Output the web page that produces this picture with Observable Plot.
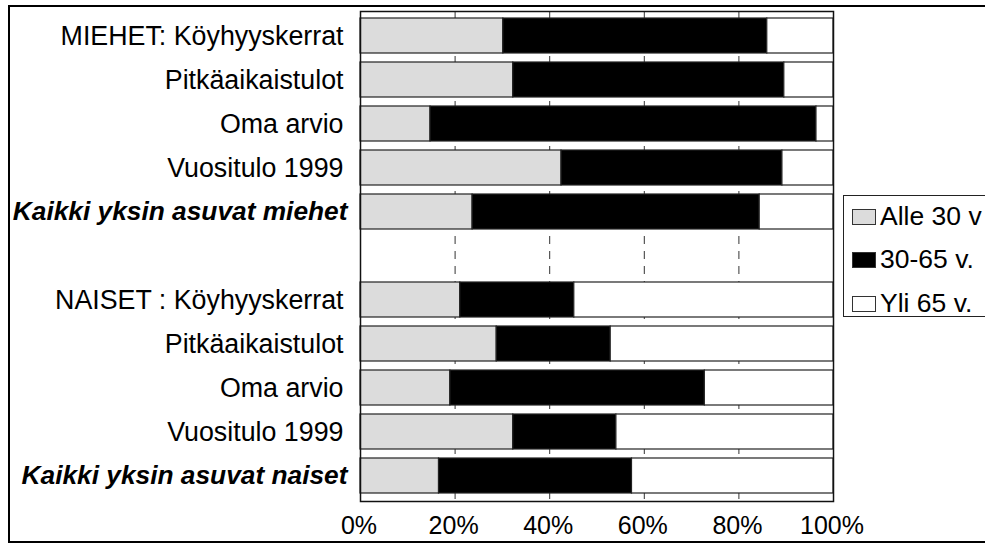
<!DOCTYPE html>
<html>
<head>
<meta charset="utf-8">
<script src="https://cdn.jsdelivr.net/npm/d3@7"></script>
<script src="https://cdn.jsdelivr.net/npm/@observablehq/plot@0.6"></script>
<style>
  html, body { margin: 0; padding: 0; background: #fff; }
  #wrap { position: relative; width: 985px; height: 543px; overflow: hidden; font-family: "Liberation Sans", Arial, sans-serif; }
  #outer { position: absolute; left: 8px; top: 5px; width: 1100px; height: 534px; border: 2px solid #000; }
  #chart { position: absolute; left: 0; top: 0; }
  #legend { position: absolute; left: 843px; top: 195px; width: 200px; height: 120px; border: 1.5px solid #222; background: #fff; }
  .item { position: absolute; left: 8px; display: flex; align-items: center; font-size: 26.5px; color: #000; white-space: nowrap; }
  .sw { width: 22px; height: 14px; border: 1px solid #333; margin-right: 4px; }
</style>
</head>
<body>
<div id="wrap">
  <div id="outer"></div>
  <div id="chart"></div>
  <div id="legend"></div>
</div>
<script>
const rowLabels = [
  "MIEHET: Köyhyyskerrat", "Pitkäaikaistulot", "Oma arvio", "Vuositulo 1999",
  "Kaikki yksin asuvat miehet", "",
  "NAISET : Köyhyyskerrat", "Pitkäaikaistulot", "Oma arvio", "Vuositulo 1999",
  "Kaikki yksin asuvat naiset"
];
const boldRows = [4, 10];
const groups = ["Alle 30 v", "30-65 v.", "Yli 65 v."];
const groupColors = ["#dcdcdc", "#000000", "#ffffff"];
const under30  = [30.2, 32.3, 14.8, 42.5, 23.7, null, 21.1, 28.8, 19.0, 32.3, 16.6];
const age30_65 = [55.8, 57.3, 81.6, 46.7, 60.7, null, 24.1, 24.1, 53.8, 21.8, 40.8];
const over65   = [14.0, 10.4,  3.6, 10.8, 15.6, null, 54.8, 47.1, 27.2, 45.9, 42.6];
const xTicks = [0, 20, 40, 60, 80, 100];
const gridTicks = [20, 40, 60, 80];

const series = [under30, age30_65, over65];
const rows = rowLabels.map((_, i) => i);
const data = [];
rows.forEach(i => {
  series.forEach((s, g) => {
    if (s[i] != null) data.push({row: i, group: groups[g], value: s[i]});
  });
});
const labelData = rows.map(i => ({row: i, label: rowLabels[i], bold: boldRows.includes(i)}));

const chart = Plot.plot({
  width: 985,
  height: 543,
  marginLeft: 360,
  marginRight: 152,
  marginTop: 11,
  marginBottom: 42,
  style: {fontFamily: '"Liberation Sans", Arial, sans-serif', background: "transparent"},
  x: {domain: [0, 100]},
  y: {domain: rows, paddingInner: 0.2, paddingOuter: 0.1, axis: null},
  color: {domain: groups, range: groupColors},
  marks: [
    Plot.ruleX(gridTicks, {stroke: "#333", strokeWidth: 1, strokeDasharray: "8,7"}),
    Plot.barX(data, Plot.stackX({x: "value", y: "row", fill: "group", stroke: "#222", strokeWidth: 1.2, order: null})),
    Plot.frame({stroke: "#111", strokeWidth: 1.5}),
    Plot.axisX(xTicks, {tickSize: 0, tickPadding: 15, dx: -1.5, tickFormat: d => d + "%", fontSize: 25, fill: "#000", label: null}),
    Plot.text(labelData.filter(d => !d.bold), {x: () => 0, y: "row", text: "label", textAnchor: "end", dx: -17, fontSize: 26.8, fill: "#000"}),
    Plot.text(labelData.filter(d => d.bold), {x: () => 0, y: "row", text: "label", textAnchor: "end", dx: -13, fontSize: 26.3, fontWeight: "bold", fontStyle: "italic", fill: "#000"})
  ]
});
document.getElementById("chart").appendChild(chart);

const legend = document.getElementById("legend");
const tops = [5, 48, 92];
groups.forEach((g, i) => {
  const it = document.createElement("div");
  it.className = "item";
  it.style.top = tops[i] + "px";
  const sw = document.createElement("div");
  sw.className = "sw";
  sw.style.background = groupColors[i];
  const tx = document.createElement("span");
  tx.textContent = g;
  it.appendChild(sw);
  it.appendChild(tx);
  legend.appendChild(it);
});
</script>
</body>
</html>
